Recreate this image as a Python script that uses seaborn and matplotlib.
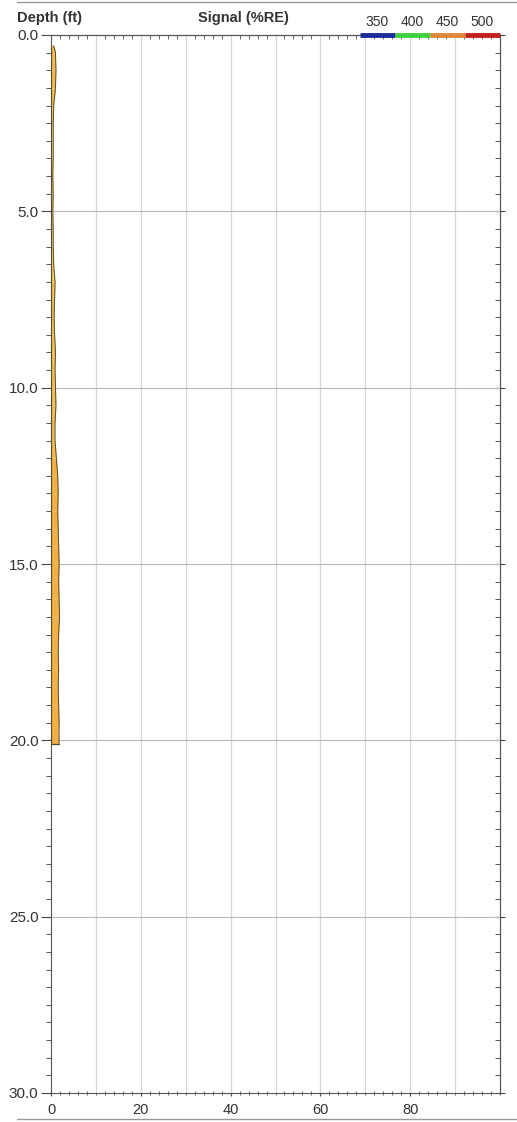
import numpy as np
import matplotlib
matplotlib.use("Agg")
import matplotlib.pyplot as plt
from matplotlib.colors import LinearSegmentedColormap, Normalize
from matplotlib.ticker import MultipleLocator, FormatStrFormatter, NullFormatter
import seaborn as sns

# depth samples (ft), signal (%RE) and dominant wavelength (nm)
depth = [0.3, 0.5, 1.0, 1.5, 2.0, 2.5, 3.0, 3.5, 4.0, 4.5, 5.0, 5.5, 6.0, 6.5,
         7.0, 7.5, 8.0, 8.5, 9.0, 9.5, 10.0, 10.5, 11.0, 11.5, 12.0, 12.5, 13.0,
         13.5, 14.0, 14.5, 15.0, 15.5, 16.0, 16.5, 17.0, 17.5, 18.0, 18.5, 19.0,
         19.5, 20.0, 20.1]
signal = [0.6, 1.0, 1.1, 1.0, 0.6, 0.5, 0.5, 0.5, 0.4, 0.5, 0.4, 0.5, 0.5, 0.6,
          0.9, 0.8, 0.7, 0.8, 1.0, 0.9, 1.0, 1.1, 0.9, 0.9, 1.2, 1.5, 1.6,
          1.5, 1.6, 1.7, 1.8, 1.7, 1.8, 1.9, 1.7, 1.6, 1.7, 1.6, 1.7,
          1.8, 1.8, 1.8]
wavelength = [440, 440, 440, 438, 428, 428, 428, 428, 428, 428, 428, 428, 428, 430,
              437, 437, 436, 437, 437, 438, 438, 438, 438, 440, 445, 445, 445,
              445, 445, 445, 445, 445, 445, 445, 445, 445, 445, 445, 445,
              445, 445, 445]

# wavelength legend
legend_nm = [350, 400, 450, 500]
legend_colors = ["#1b2d9c", "#3fcf3f", "#e0883a", "#c42020"]
legend_start, legend_end = 68.8, 100

sns.set_style("white")
plt.rcParams["font.family"] = ["Liberation Sans", "DejaVu Sans"]

cmap = LinearSegmentedColormap.from_list(
    "rgb_nm",
    [(0.0, "#1b2d9c"), (0.33, "#3fcf3f"), (0.5, "#eee070"),
     (0.67, "#f2a53a"), (1.0, "#c42020")])
norm = Normalize(350, 500)

W, H = 517, 1122
fig = plt.figure(figsize=(W / 100, H / 100), dpi=100)
ax = fig.add_axes([51 / W, 1 - 1093 / H, 449 / W, 1058 / H])

# filled trace
for i in range(len(depth) - 1):
    ax.fill_betweenx([depth[i], depth[i + 1]], 0, [signal[i], signal[i + 1]],
                     color=cmap(norm(wavelength[i])), lw=0, zorder=3)
sns.lineplot(x=signal, y=depth, sort=False, orient="y", ax=ax,
             color="#5a4a2e", lw=0.7, zorder=4)
ax.plot([0, 0], [depth[0], depth[-1]], color="#5a4a2e", lw=0.9, zorder=4)
ax.plot([0, signal[-1]], [depth[-1], depth[-1]], color="#5a4a2e", lw=0.9, zorder=4)

ax.set_xlim(0, 100)
ax.set_ylim(30, 0)

for x in range(10, 100, 10):
    ax.axvline(x, color="#d6d6d6", lw=0.9, zorder=1)
for y in range(5, 30, 5):
    ax.axhline(y, color="#b8b8b8", lw=0.8, zorder=1)

# left / bottom axes
ax.set_xticks([0, 20, 40, 60, 80])
ax.xaxis.set_minor_locator(MultipleLocator(2))
ax.yaxis.set_major_locator(MultipleLocator(5))
ax.yaxis.set_minor_locator(MultipleLocator(0.5))
ax.yaxis.set_major_formatter(FormatStrFormatter("%.1f"))
ax.tick_params(axis="y", which="major", left=True, direction="out", length=7,
               width=0.8, color="#444444", labelsize=11, pad=2, labelcolor="#333333")
ax.tick_params(axis="y", which="minor", left=True, direction="out", length=3.5,
               width=0.7, color="#555555")
ax.tick_params(axis="x", which="major", bottom=True, direction="inout", length=5,
               width=0.8, color="#444444", labelsize=10.5, pad=5, labelcolor="#333333")
ax.tick_params(axis="x", which="minor", bottom=True, direction="inout", length=3.5,
               width=0.7, color="#666666")

# right / top axes with inward ticks
right = ax.secondary_yaxis("right")
right.yaxis.set_major_locator(MultipleLocator(5))
right.yaxis.set_minor_locator(MultipleLocator(0.5))
right.yaxis.set_major_formatter(NullFormatter())
right.tick_params(which="major", right=True, direction="inout", length=7, width=0.8,
                  color="#444444")
right.tick_params(which="minor", right=True, direction="in", length=3.5, width=0.7,
                  color="#555555")
top = ax.secondary_xaxis("top")
top.xaxis.set_major_locator(MultipleLocator(20))
top.xaxis.set_minor_locator(MultipleLocator(2))
top.xaxis.set_major_formatter(NullFormatter())
top.tick_params(which="major", top=True, direction="in", length=4, width=0.7,
                color="#555555")
top.tick_params(which="minor", top=True, direction="in", length=3, width=0.7,
                color="#666666")

for a in (ax, right, top):
    for s in a.spines.values():
        s.set_color("#555555")
        s.set_linewidth(0.8)

# header texts
fig.text(17 / W, 1 - 18 / H, "Depth (ft)", fontsize=10.5, fontweight="bold",
         color="#333333", va="center", ha="left")
fig.text(243 / W, 1 - 18 / H, "Signal (%RE)", fontsize=10.5, fontweight="bold",
         color="#333333", va="center", ha="center")

# wavelength colour legend along the top edge
seg = (legend_end - legend_start) / len(legend_nm)
for k, (nm, c) in enumerate(zip(legend_nm, legend_colors)):
    x0 = legend_start + k * seg
    ax.plot([x0, x0 + seg], [0, 0], color=c, lw=3.5, solid_capstyle="butt",
            clip_on=False, zorder=6)
    ax.text(x0 + seg / 2, -0.17, str(nm), fontsize=10, color="#333333",
            ha="center", va="bottom")

# outer frame lines of the original screenshot
fig.add_artist(plt.Line2D([17 / W, 1], [1 - 2 / H] * 2, color="#999999", lw=1))
fig.add_artist(plt.Line2D([17 / W, 1], [1 - 1119 / H] * 2, color="#999999", lw=1))

fig.savefig("out.png", dpi=100)
